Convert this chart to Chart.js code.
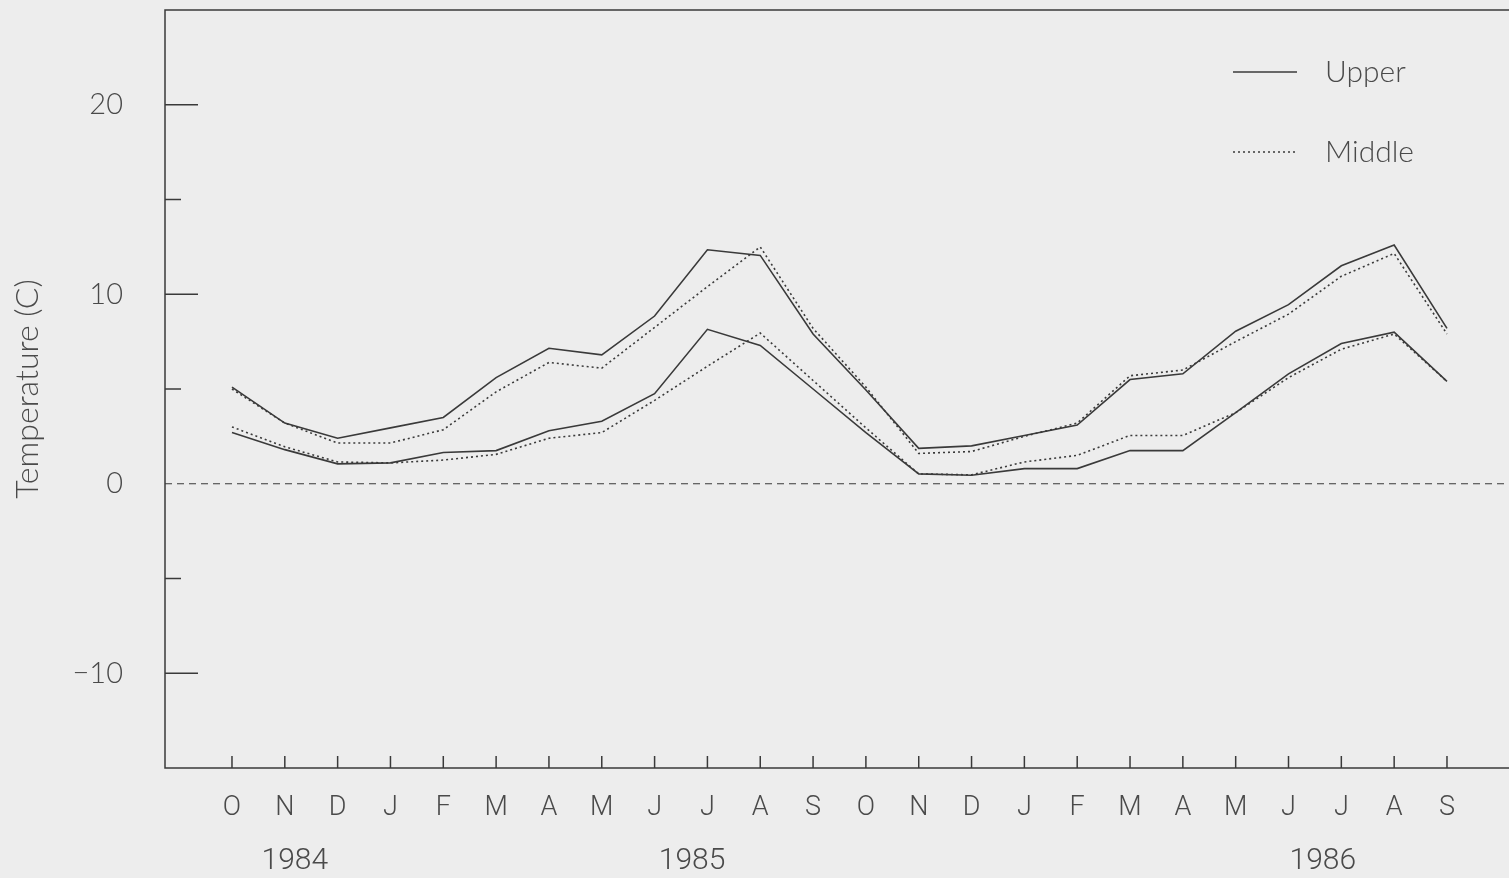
<!DOCTYPE html>
<html>
<head>
<meta charset="utf-8">
<script src="https://cdn.jsdelivr.net/npm/chart.js@4.4.1/dist/chart.umd.min.js"></script>
<style>
    html, body { margin: 0; padding: 0; background: #ededed; }
    #wrap { width: 1509px; height: 878px; }
</style>
</head>
<body>
<div id="wrap"><canvas id="temperature"></canvas></div>
<script>
// Oct 1984 .. Sep 1986
const months = ['O', 'N', 'D', 'J', 'F', 'M', 'A', 'M', 'J', 'J', 'A', 'S',
                'O', 'N', 'D', 'J', 'F', 'M', 'A', 'M', 'J', 'J', 'A', 'S'];
const years = ['1984', '1985', '1986'];
const seriesNames = ['Upper', 'Middle'];

// two solid lines (Upper) and two dotted lines (Middle)
const upperHigh = [5.1, 3.2, 2.4, 2.95, 3.5, 5.6, 7.15, 6.8, 8.85, 12.35, 12.05, 7.9,
                   4.95, 1.87, 2.0, 2.55, 3.1, 5.5, 5.8, 8.05, 9.45, 11.5, 12.6, 8.2];
const upperLow = [2.7, 1.8, 1.05, 1.1, 1.65, 1.75, 2.8, 3.3, 4.75, 8.15, 7.3, 5.0,
                  2.7, 0.52, 0.45, 0.8, 0.8, 1.75, 1.75, 3.75, 5.8, 7.4, 8.0, 5.4];
const middleHigh = [5.0, 3.2, 2.15, 2.15, 2.85, 4.85, 6.4, 6.1, 8.25, 10.4, 12.5, 8.2,
                    5.1, 1.6, 1.7, 2.5, 3.2, 5.7, 6.0, 7.5, 8.95, 10.95, 12.15, 7.9];
const middleLow = [3.0, 1.95, 1.15, 1.1, 1.25, 1.55, 2.4, 2.7, 4.4, 6.2, 7.95, 5.45,
                   2.95, 0.52, 0.47, 1.15, 1.5, 2.55, 2.55, 3.75, 5.6, 7.1, 7.9, 5.4];

const ink = '#3a3a3a';
const textInk = '#4a4a4a';
const dotted = [2, 3];

const toPoints = arr => arr.map((v, i) => ({ x: i, y: v }));

const paper = {
    id: 'paper',
    beforeDraw(chart) {
        const ctx = chart.ctx;
        ctx.save();
        ctx.fillStyle = '#ededed';
        ctx.fillRect(0, 0, chart.width, chart.height);
        ctx.restore();
    }
};

// frame, inward ticks and the dashed zero line
const frame = {
    id: 'frame',
    beforeDatasetsDraw(chart) {
        const { ctx, chartArea: a, scales: { x, y } } = chart;
        ctx.save();
        ctx.strokeStyle = ink;
        ctx.lineWidth = 1.5;
        ctx.beginPath();
        ctx.moveTo(a.right + 5, a.top);
        ctx.lineTo(a.left, a.top);
        ctx.lineTo(a.left, a.bottom);
        ctx.lineTo(a.right + 5, a.bottom);
        ctx.stroke();

        y.ticks.forEach(t => {
            if (t.value === 0 || t.value <= y.min || t.value >= y.max) return;
            const py = y.getPixelForValue(t.value);
            const len = t.value % 10 === 0 ? 33 : 16;
            ctx.beginPath();
            ctx.moveTo(a.left, py);
            ctx.lineTo(a.left + len, py);
            ctx.stroke();
        });
        x.ticks.forEach(t => {
            const px = x.getPixelForValue(t.value);
            ctx.beginPath();
            ctx.moveTo(px, a.bottom);
            ctx.lineTo(px, a.bottom - 12);
            ctx.stroke();
        });

        const y0 = y.getPixelForValue(0);
        ctx.lineWidth = 1.2;
        ctx.setLineDash([7, 5]);
        ctx.beginPath();
        ctx.moveTo(a.left, y0);
        ctx.lineTo(a.right, y0);
        ctx.stroke();
        ctx.restore();
    },
    afterDraw(chart) {
        const { ctx, chartArea: a, scales: { x } } = chart;
        const opts = chart.options.plugins.frame;
        ctx.save();
        ctx.fillStyle = textInk;
        ctx.font = '300 30px Roboto';
        ctx.textAlign = 'center';
        ctx.textBaseline = 'middle';
        years.forEach((yr, i) => {
            ctx.fillText(yr, x.getPixelForValue(opts.yearAt[i]), a.bottom + 93);
        });

        // legend: one entry per depth
        ctx.font = '300 30px Lato';
        ctx.textAlign = 'left';
        seriesNames.forEach((name, i) => {
            const ds = chart.data.datasets[i * 2];
            const ly = a.top + 62 + i * 80;
            ctx.strokeStyle = ds.borderColor;
            ctx.lineWidth = ds.borderWidth;
            ctx.setLineDash(ds.borderDash || []);
            ctx.beginPath();
            ctx.moveTo(a.right - 276, ly);
            ctx.lineTo(a.right - 212, ly);
            ctx.stroke();
            ctx.fillText(name, a.right - 184, ly);
        });
        ctx.restore();
    }
};

const lineStyle = (label, data, dash) => ({
    label,
    data: toPoints(data),
    borderColor: ink,
    borderWidth: 1.6,
    borderDash: dash,
    pointRadius: 0,
    fill: false,
    tension: 0
});

new Chart(document.getElementById('temperature'), {
    type: 'line',
    data: {
        datasets: [
            lineStyle('Upper', upperHigh, []),
            lineStyle('Upper', upperLow, []),
            lineStyle('Middle', middleHigh, dotted),
            lineStyle('Middle', middleLow, dotted)
        ]
    },
    options: {
        responsive: true,
        maintainAspectRatio: false,
        animation: false,
        layout: { padding: { top: 10, right: 0, left: 0, bottom: 0 } },
        plugins: {
            legend: { display: false },
            tooltip: { enabled: false },
            frame: { yearAt: [1.19, 8.71, 20.65] }
        },
        scales: {
            x: {
                type: 'linear',
                min: -1.268,
                max: 24.174,
                grid: { display: false, drawTicks: false },
                border: { display: false },
                afterBuildTicks: scale => {
                    scale.ticks = months.map((m, i) => ({ value: i }));
                },
                afterFit: scale => {
                    scale.height = 110;
                    scale.paddingLeft = 0;
                    scale.paddingRight = 0;
                },
                ticks: {
                    autoSkip: false,
                    maxRotation: 0,
                    padding: 24,
                    color: textInk,
                    font: { family: 'Roboto', size: 27, weight: '300' },
                    callback: (value, index) => months[index]
                }
            },
            y: {
                min: -15,
                max: 25,
                grid: { display: false, drawTicks: false },
                border: { display: false },
                afterFit: scale => {
                    scale.width = 165;
                    scale.paddingTop = 0;
                    scale.paddingBottom = 0;
                },
                ticks: {
                    stepSize: 5,
                    padding: 42,
                    color: textInk,
                    font: { family: 'Lato', size: 29, weight: '300' },
                    callback: value => value % 10 === 0 && value > -15 && value < 25
                        ? String(value).replace('-', '\u2212') : ''
                },
                title: {
                    display: true,
                    text: 'Temperature (C)',
                    color: textInk,
                    padding: { top: 8, bottom: 0 },
                    font: { family: 'Lato', size: 32, weight: '300' }
                }
            }
        }
    },
    plugins: [paper, frame]
});
</script>
</body>
</html>
